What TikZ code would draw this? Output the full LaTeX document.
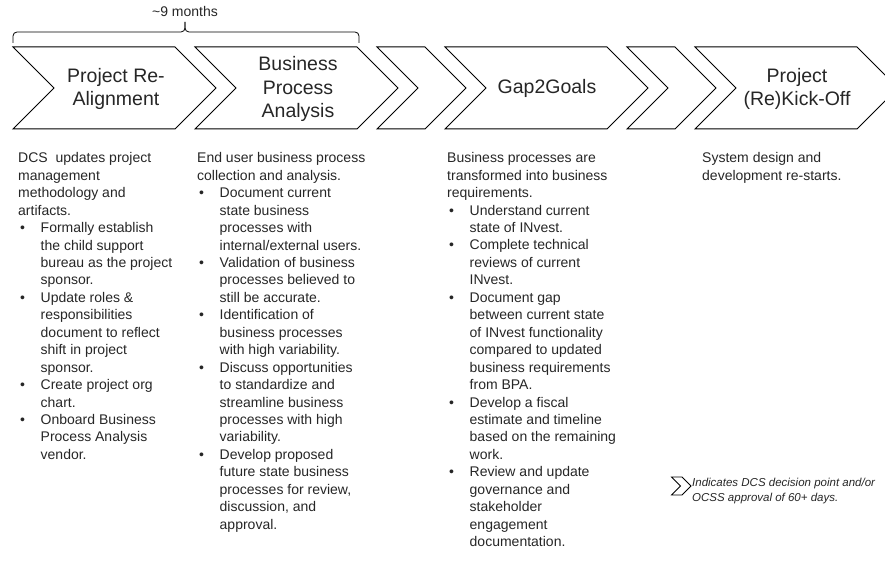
\documentclass[tikz,border=0pt]{standalone}
\usepackage{fontspec}
\setmainfont{Liberation Sans}
\newcommand{\bul}{\makebox[22.5pt][l]{\hspace{2pt}\textbullet}}
\newcommand{\ind}{\hspace*{22.5pt}}
\newcommand{\chev}[2]{\draw[line width=1pt] (#1,47) -- ++(#2,0) -- ++(41,41) -- ++(-41,41) -- ++(-#2,0) -- ++(41,-41) -- cycle;}
\begin{document}
\begin{tikzpicture}[x=1pt,y=-1pt,
        chevlabel/.style={align=center, inner sep=0pt, text=black!85, font=\fontsize{19.5}{23.5}\selectfont},
        blocktext/.style={align=left, anchor=base west, inner sep=0pt, text=black!85, font=\fontsize{14}{17.45}\selectfont}]
        \useasboundingbox (0,0) rectangle (885,561);
        \clip (0,0) rectangle (885,561);
        % phases
        \chev{13}{162}
        \chev{195}{162}
        \chev{377}{48}
        \chev{445}{162}
        \chev{627}{48}
        \chev{695}{162}
        \node[chevlabel] (realign) at (116,89) {Project Re-\\Alignment};
        \node[chevlabel] (bpa) at (298,89) {Business\\Process\\Analysis};
        \node[chevlabel] (gap) at (547,88) {Gap2Goals};
        \node[chevlabel] (kickoff) at (797,89) {Project\\(Re)Kick-Off};
        % brace over first two phases
        \draw[line width=0.8pt, rounded corners=4pt] (13,43) -- (13,32) -- (185,32) -- (185,22);
        \draw[line width=0.8pt, rounded corners=4pt] (359,43) -- (359,32) -- (185,32) -- (185,22);
        \node[anchor=base, inner sep=0pt, text=black!85, font=\fontsize{14}{17}\selectfont] (months) at (185,16.7) {\textasciitilde 9 months};
        % descriptions (base = last line)
        \node[blocktext] (realigntxt) at (18,459.4) {DCS~ updates project\\management\\methodology and\\artifacts.\\
                \bul Formally establish\\\ind the child support\\\ind bureau as the project\\\ind sponsor.\\
                \bul Update roles \&\\\ind responsibilities\\\ind document to reflect\\\ind shift in project\\\ind sponsor.\\
                \bul Create project org\\\ind chart.\\
                \bul Onboard Business\\\ind Process Analysis\\\ind vendor.};
        \node[blocktext] (bpatxt) at (197,529.2) {End user business process\\collection and analysis.\\
                \bul Document current\\\ind state business\\\ind processes with\\\ind internal/external users.\\
                \bul Validation of business\\\ind processes believed to\\\ind still be accurate.\\
                \bul Identification of\\\ind business processes\\\ind with high variability.\\
                \bul Discuss opportunities\\\ind to standardize and\\\ind streamline business\\\ind processes with high\\\ind variability.\\
                \bul Develop proposed\\\ind future state business\\\ind processes for review,\\\ind discussion, and\\\ind approval.};
        \node[blocktext] (gaptxt) at (447,546.6) {Business processes are\\transformed into business\\requirements.\\
                \bul Understand current\\\ind state of INvest.\\
                \bul Complete technical\\\ind reviews of current\\\ind INvest.\\
                \bul Document gap\\\ind between current state\\\ind of INvest functionality\\\ind compared to updated\\\ind business requirements\\\ind from BPA.\\
                \bul Develop a fiscal\\\ind estimate and timeline\\\ind based on the remaining\\\ind work.\\
                \bul Review and update\\\ind governance and\\\ind stakeholder\\\ind engagement\\\ind documentation.};
        \node[blocktext] (kickofftxt) at (702,180.2) {System design and\\development re-starts.};
        % legend
        \draw[line width=0.8pt] (671.5,477) -- ++(10.5,0) -- ++(9,9) -- ++(-9,9) -- ++(-10.5,0) -- ++(9,-9) -- cycle;
        \node[blocktext, font=\itshape\fontsize{11.5}{15}\selectfont] (legend) at (692,501) {Indicates DCS decision point and/or\\OCSS approval of 60+ days.};
\end{tikzpicture}
\end{document}
